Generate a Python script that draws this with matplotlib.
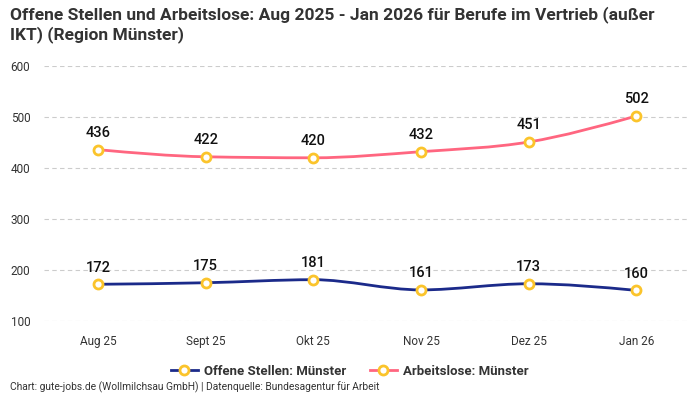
import numpy as np
import matplotlib
matplotlib.use('Agg')
import matplotlib.pyplot as plt
from matplotlib.path import Path
from matplotlib.patches import PathPatch
from matplotlib.lines import Line2D

plt.rcParams['font.family'] = ['Roboto', 'DejaVu Sans']

months = ['Aug 25', 'Sept 25', 'Okt 25', 'Nov 25', 'Dez 25', 'Jan 26']
offene_stellen = [172, 175, 181, 161, 173, 160]
arbeitslose = [436, 422, 420, 432, 451, 502]

blue = '#1b2a8a'
pink = '#ff6680'
marker_edge = '#fbc42b'
text_col = '#333333'


def monotone_path(x, y):
    # monotone cubic (like d3 curveMonotoneX) as bezier path
    x = np.asarray(x, float)
    y = np.asarray(y, float)
    n = len(x)
    h = np.diff(x)
    s = np.diff(y) / h
    t = np.zeros(n)
    for i in range(1, n - 1):
        if s[i - 1] * s[i] > 0:
            p = (s[i - 1] * h[i] + s[i] * h[i - 1]) / (h[i - 1] + h[i])
            t[i] = np.sign(s[i - 1]) * min(2 * abs(s[i - 1]), 2 * abs(s[i]), abs(p))
    t[0] = (3 * s[0] - t[1]) / 2
    t[-1] = (3 * s[-1] - t[-2]) / 2
    verts = [(x[0], y[0])]
    codes = [Path.MOVETO]
    for i in range(n - 1):
        d = h[i] / 3
        verts += [(x[i] + d, y[i] + d * t[i]), (x[i + 1] - d, y[i + 1] - d * t[i + 1]),
                  (x[i + 1], y[i + 1])]
        codes += [Path.CURVE4] * 3
    return Path(verts, codes)


fig = plt.figure(figsize=(7, 4), dpi=100)
ax = fig.add_axes([0.063, 0.1975, 0.923, 0.6375])
xs = np.arange(len(months))

for vals, col in [(offene_stellen, blue), (arbeitslose, pink)]:
    ax.add_patch(PathPatch(monotone_path(xs, vals), facecolor='none', edgecolor=col, lw=2, zorder=3))
    ax.plot(xs, vals, ls='none', marker='o', ms=6.5, mfc='white', mec=marker_edge, mew=2, zorder=4)
    for xi, v in zip(xs, vals):
        ax.annotate(str(v), (xi, v), xytext=(0, 7), textcoords='offset points',
                    ha='center', va='bottom', fontsize=10.5, fontweight='medium', color='#111111')

ax.set_xlim(-0.5, 5.5)
ax.set_ylim(100, 600)
ax.set_yticks([100, 200, 300, 400, 500, 600])
ax.set_xticks(xs)
ax.set_xticklabels(months)
ax.grid(axis='y', ls=(0, (4, 3)), color='#cccccc', lw=0.8)
ax.set_axisbelow(True)
for sp in ax.spines.values():
    sp.set_visible(False)
ax.tick_params(length=0, labelsize=8.5, colors=text_col)
ax.tick_params(axis='x', pad=10)
ax.tick_params(axis='y', pad=10)

fig.text(0.014, 0.985, 'Offene Stellen und Arbeitslose: Aug 2025 - Jan 2026 für Berufe im Vertrieb (außer\nIKT) (Region Münster)',
         ha='left', va='top', fontsize=12.5, fontweight='bold', color=text_col, linespacing=1.2)

handles = [Line2D([], [], color=blue, lw=2, marker='o', ms=6.5, mfc='white', mec=marker_edge, mew=2),
           Line2D([], [], color=pink, lw=2, marker='o', ms=6.5, mfc='white', mec=marker_edge, mew=2)]
leg = fig.legend(handles, ['Offene Stellen: Münster', 'Arbeitslose: Münster'], loc='center',
                 bbox_to_anchor=(0.5, 0.072), ncol=2, frameon=False, fontsize=9.5,
                 handlelength=2.0, columnspacing=1.8, handletextpad=0.5)
for t in leg.get_texts():
    t.set_fontweight('bold')
    t.set_color(text_col)

fig.text(0.014, 0.018, 'Chart: gute-jobs.de (Wollmilchsau GmbH) | Datenquelle: Bundesagentur für Arbeit',
         ha='left', va='bottom', fontsize=7.4, color=text_col)

fig.savefig('out.png', dpi=100)
